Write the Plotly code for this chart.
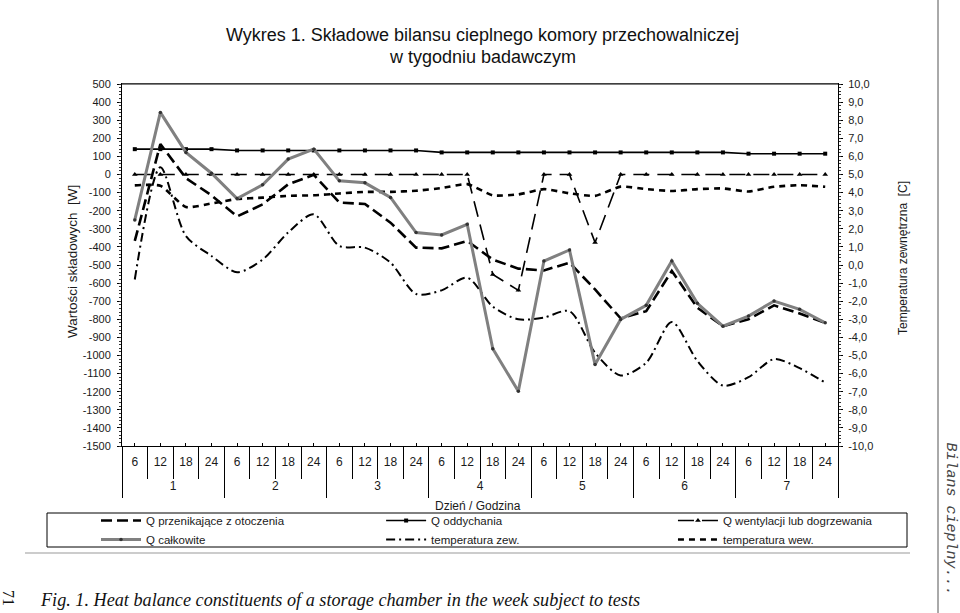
import plotly.graph_objects as go

# ---------------- data ----------------
days = ['1', '2', '3', '4', '5', '6', '7']
hours = ['6', '12', '18', '24']

q_przenikajace = [-367, 168, -20, -115, -232, -165, -54, -2,
                  -155, -163, -266, -404, -408, -367, -470, -520,
                  -530, -487, -635, -795, -755, -533, -736, -838,
                  -800, -723, -768, -820]
q_oddychania = [140, 140, 140, 140, 133, 133, 133, 133,
                133, 133, 133, 133, 122, 122, 122, 122,
                122, 122, 122, 122, 122, 122, 122, 122,
                115, 115, 115, 115]
q_wentylacji = [0, 0, 0, 0, 0, 0, 0, 0,
                0, 0, 0, 0, 0, 0, -552, -640,
                0, 0, -376, 0, 0, 0, 0, 0,
                0, 0, 0, 0]
q_calkowite = [-251, 343, 122, 7, -133, -57, 85, 140,
               -35, -46, -127, -321, -334, -275, -963, -1197,
               -478, -417, -1050, -801, -723, -478, -712, -838,
               -782, -699, -745, -819]
temp_zew = [-0.8, 5.4, 1.6, 0.5, -0.4, 0.3, 1.8, 2.8,
            1.05, 0.96, 0.13, -1.6, -1.4, -0.7, -2.3, -3.0,
            -2.9, -2.55, -4.85, -6.1, -5.4, -3.15, -5.3, -6.66,
            -6.2, -5.2, -5.7, -6.5]
temp_wew = [4.4, 4.38, 3.2, 3.4, 3.65, 3.72, 3.82, 3.85,
            3.95, 4.04, 4.04, 4.1, 4.25, 4.47, 3.85, 3.9,
            4.19, 3.96, 3.82, 4.33, 4.19, 4.09, 4.19, 4.23,
            4.06, 4.32, 4.41, 4.32]

left_ticks = list(range(-1500, 501, 100))
right_ticks = list(range(-10, 11, 1))

# --------------------------------------
# one slot per (day, hour) reading, in order
x_hour = [h for d in days for h in hours]
x_pos = list(range(len(x_hour)))
n_h = len(hours)
day_centers = [i * n_h + (n_h - 1) / 2 for i in range(len(days))]
XR = [-0.5, len(x_hour) - 0.5]
YR = [-1500, 500]
Y2R = [-10, 10]

FONT = "Liberation Sans, Arial, sans-serif"
TXT = "#1a1a1a"
fig = go.Figure()

# legend columns: legend (col 1), legend2 (col 2), legend3 (col 3)
fig.add_trace(go.Scatter(
    x=x_pos, y=q_przenikajace, name="Q przenikające z otoczenia", mode="lines",
    xaxis="x", yaxis="y", legend="legend",
    line=dict(color="black", width=2.6, dash="11px,5px")))
fig.add_trace(go.Scatter(
    x=x_pos, y=q_oddychania, name="Q oddychania", mode="lines+markers",
    xaxis="x2", yaxis="y3", legend="legend2",
    line=dict(color="black", width=1.6),
    marker=dict(symbol="square", size=4, color="black")))
fig.add_trace(go.Scatter(
    x=x_pos, y=q_wentylacji, name="Q wentylacji lub dogrzewania", mode="lines+markers",
    xaxis="x3", yaxis="y", legend="legend3",
    line=dict(color="black", width=1.6, dash="16px,8px"),
    marker=dict(symbol="triangle-up", size=5, color="black")))
fig.add_trace(go.Scatter(
    x=x_pos, y=q_calkowite, name="Q całkowite", mode="lines+markers",
    xaxis="x4", yaxis="y", legend="legend",
    line=dict(color="#808080", width=3),
    marker=dict(symbol="circle", size=3.5, color="#333333")))
fig.add_trace(go.Scatter(
    x=x_pos, y=temp_zew, name="temperatura zew.", mode="lines",
    xaxis="x", yaxis="y2", legend="legend2",
    line=dict(color="black", width=2, dash="9px,4px,2px,4px", shape="spline", smoothing=0.8)))
fig.add_trace(go.Scatter(
    x=x_pos, y=temp_wew, name="temperatura wew.", mode="lines",
    xaxis="x", yaxis="y4", legend="legend3",
    line=dict(color="black", width=2.6, dash="6px,5px", shape="spline", smoothing=0.5)))

legend_common = dict(orientation="v", xref="container", yref="container",
                     yanchor="top", xanchor="left", y=0.1745,
                     font=dict(size=11.5, family=FONT, color=TXT),
                     bgcolor="rgba(0,0,0,0)", tracegroupgap=0, itemwidth=40)

fig.update_layout(
    width=960, height=613,
    margin=dict(l=122, r=122, t=84, b=167, autoexpand=False),
    paper_bgcolor="white", plot_bgcolor="white",
    font=dict(family=FONT, size=11, color=TXT),
    showlegend=True,
    legend=dict(x=0.1, **legend_common),
    legend2=dict(x=0.397, **legend_common),
    legend3=dict(x=0.701, **legend_common),
    # hour labels
    xaxis=dict(range=XR, tickmode="array", tickvals=x_pos, ticktext=x_hour,
               showline=True, linecolor="black", linewidth=1, mirror=True,
               ticks="inside", ticklen=3, tickcolor="black", ticklabelstandoff=5,
               tickfont=dict(size=12, family=FONT, color=TXT),
               showgrid=False, zeroline=False),
    # hour boundaries
    xaxis2=dict(range=XR, overlaying="x", anchor="y", side="bottom",
                tickmode="linear", tick0=-0.5, dtick=1, ticks="outside", ticklen=32,
                tickcolor="black", tickwidth=1, showticklabels=False, showline=False,
                showgrid=False, zeroline=False),
    # day labels
    xaxis3=dict(range=XR, overlaying="x", anchor="y", side="bottom",
                tickmode="array", tickvals=day_centers, ticktext=days,
                ticks="", showline=False, ticklabelstandoff=31,
                tickfont=dict(size=12, family=FONT, color=TXT),
                showgrid=False, zeroline=False),
    # day boundaries
    xaxis4=dict(range=XR, overlaying="x", anchor="y", side="bottom",
                tickmode="linear", tick0=-0.5, dtick=n_h, ticks="outside", ticklen=51,
                tickcolor="black", tickwidth=1, showticklabels=False, showline=False,
                showgrid=False, zeroline=False),
    yaxis=dict(range=YR, tickmode="array", tickvals=left_ticks,
               ticktext=[str(v) for v in left_ticks],
               showline=True, linecolor="black", linewidth=1, mirror=False,
               ticks="outside", ticklen=4, tickcolor="black", ticklabelstandoff=4,
               showgrid=False, zeroline=False,
               tickfont=dict(size=11, family=FONT, color=TXT)),
    yaxis3=dict(range=YR, overlaying="y", side="left", tickmode="linear", tick0=0, dtick=20,
                ticks="outside", ticklen=2, tickcolor="#333", showticklabels=False,
                showline=False, showgrid=False, zeroline=False),
    yaxis2=dict(range=Y2R, overlaying="y", side="right", tickmode="array",
                tickvals=right_ticks,
                ticktext=[f"{v:.1f}".replace('.', ',') for v in right_ticks],
                showline=True, linecolor="black", linewidth=1,
                ticks="outside", ticklen=4, tickcolor="black", ticklabelstandoff=3,
                showgrid=False, zeroline=False,
                tickfont=dict(size=11, family=FONT, color=TXT)),
    yaxis4=dict(range=Y2R, overlaying="y", side="right", tickmode="linear", tick0=0, dtick=0.2,
                ticks="outside", ticklen=2, tickcolor="#333", showticklabels=False,
                showline=False, showgrid=False, zeroline=False),
)


def px_x(p):
    return (p - 122) / 716


def px_y(p):
    return (446 - p) / 362


# top frame line of plot area
fig.add_shape(type="line", xref="paper", yref="paper", x0=0, x1=1, y0=1, y1=1,
              line=dict(color="#555", width=1.5))
# legend frame
fig.add_shape(type="rect", xref="paper", yref="paper",
              x0=px_x(47), x1=px_x(907), y0=px_y(547), y1=px_y(513),
              line=dict(color="black", width=1), fillcolor="rgba(0,0,0,0)")
# light gray rule under chart
fig.add_shape(type="line", xref="paper", yref="paper",
              x0=px_x(25), x1=px_x(910), y0=px_y(553), y1=px_y(553),
              line=dict(color="#cccccc", width=2))
# right page rule
fig.add_shape(type="line", xref="paper", yref="paper",
              x0=px_x(938), x1=px_x(938), y0=px_y(613), y1=px_y(0),
              line=dict(color="#555", width=1))

ann = [
    dict(text="Wykres 1. Składowe bilansu cieplnego komory przechowalniczej",
         x=px_x(482), y=px_y(35), font=dict(size=18, family=FONT, color="#111")),
    dict(text="w tygodniu badawczym",
         x=px_x(482), y=px_y(57), font=dict(size=18, family=FONT, color="#111")),
    dict(text="Wartości składowych  [W]", x=px_x(72), y=px_y(262), textangle=-90,
         font=dict(size=13.5, family=FONT, color=TXT)),
    dict(text="Temperatura zewnętrzna  [C]", x=px_x(903), y=px_y(258), textangle=-90,
         font=dict(size=12, family=FONT, color=TXT)),
    dict(text="Dzień / Godzina", x=px_x(478), y=px_y(506),
         font=dict(size=12, family=FONT, color=TXT)),
    dict(text="<i>Fig. 1. Heat balance constituents of a storage chamber in the week subject to tests</i>",
         x=px_x(38), y=px_y(600), xanchor="left",
         font=dict(size=18.2, family="Liberation Serif, Times New Roman, serif", color="#111")),
    dict(text="71", x=px_x(9), y=px_y(598), textangle=90,
         font=dict(size=16, family="Liberation Serif, serif", color="#111")),
    dict(text="<i>Bilans cieplny...</i>", x=px_x(950), y=px_y(440), yanchor="top", textangle=90,
         font=dict(size=15, family="Liberation Mono, Courier New, monospace", color="#444")),
]
for a in ann:
    d = dict(xref="paper", yref="paper", showarrow=False, xanchor="center", yanchor="middle")
    d.update(a)
    fig.add_annotation(**d)

fig.write_html("out.html", config={"displayModeBar": False},
               post_script="document.body.style.margin='0';document.body.style.overflow='hidden';")
